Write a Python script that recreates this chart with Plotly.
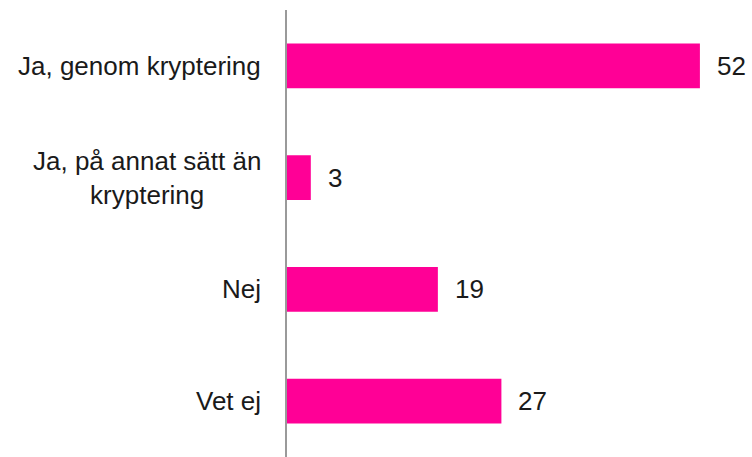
import plotly.graph_objects as go

# Survey answers and their shares (percent)
categories = ["Ja, genom kryptering", "Ja, på annat sätt än<br>kryptering", "Nej", "Vet ej"]
values = [52, 3, 19, 27]

BAR_COLOR = "#FF0096"
TEXT_COLOR = "#1a1a1a"
FONT = "Liberation Sans, Arial, sans-serif"
FONT_SIZE = 26

fig = go.Figure(
    go.Bar(
        x=values,
        y=categories,
        orientation="h",
        marker=dict(color=BAR_COLOR, line=dict(width=0)),
        width=0.4,
        hoverinfo="x+y",
    )
)

annotations = []
# Category labels, lines centred within each label block
for cat in categories:
    annotations.append(dict(
        x=0, xref="paper", y=cat, yref="y",
        text=cat, showarrow=False,
        xanchor="right", yanchor="middle", align="center",
        xshift=-24,
        font=dict(family=FONT, size=FONT_SIZE, color=TEXT_COLOR),
    ))
# Value labels to the right of each bar
for cat, v in zip(categories, values):
    annotations.append(dict(
        x=v, xref="x", y=cat, yref="y",
        text=str(v), showarrow=False,
        xanchor="left", yanchor="middle",
        xshift=15,
        font=dict(family=FONT, size=FONT_SIZE, color=TEXT_COLOR),
    ))

fig.update_layout(
    width=752,
    height=457,
    margin=dict(l=287, r=0, t=10, b=0),
    paper_bgcolor="white",
    plot_bgcolor="white",
    showlegend=False,
    font=dict(family=FONT, size=FONT_SIZE, color=TEXT_COLOR),
    annotations=annotations,
)

fig.update_xaxes(
    range=[0, 58.56],
    visible=False,
    showgrid=False,
    zeroline=False,
)

fig.update_yaxes(
    autorange="reversed",
    showgrid=False,
    zeroline=False,
    showline=True,
    linecolor="#9a9a9a",
    linewidth=1.5,
    ticks="",
    showticklabels=False,
)

fig.write_html("out.html")
